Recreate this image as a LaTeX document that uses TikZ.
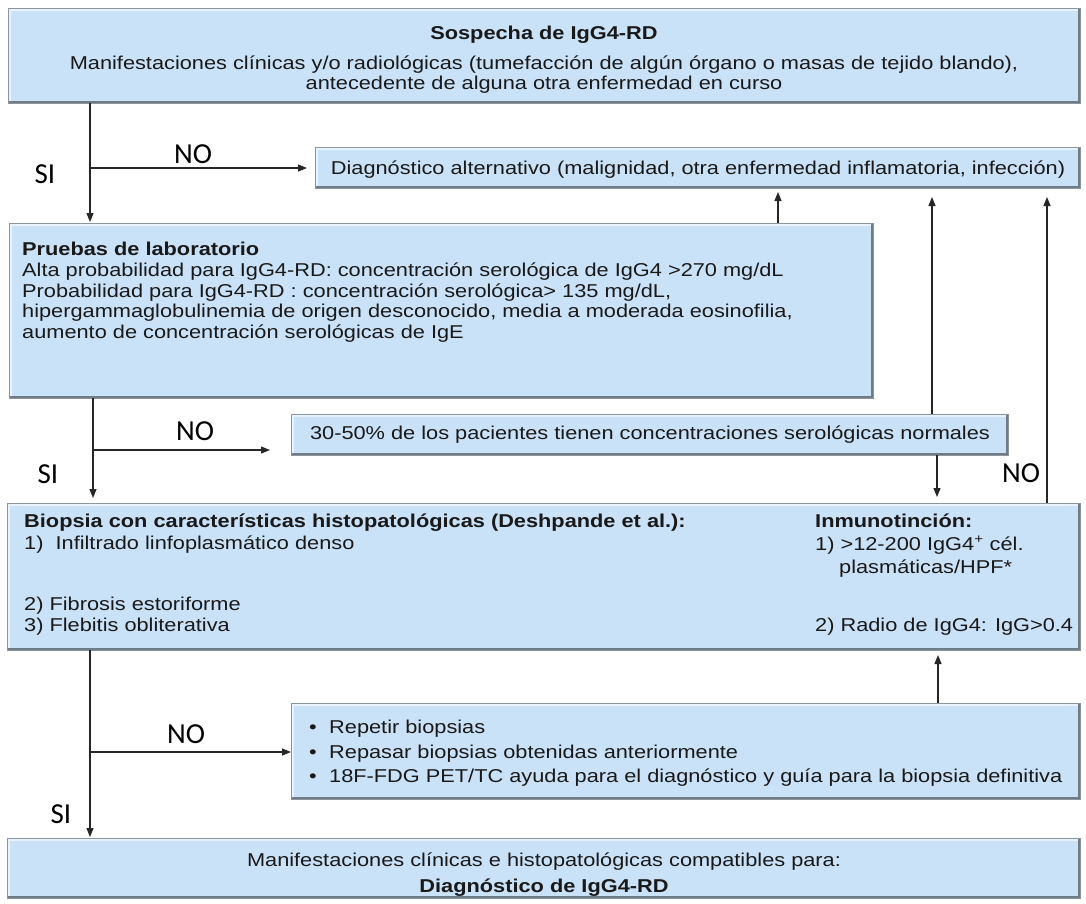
\documentclass[tikz,border=0pt]{standalone}
\usepackage{fontspec}
\setmainfont{Liberation Sans}[FakeStretch=1.17]
\newfontfamily\lblfont{Carlito}
\usetikzlibrary{arrows.meta,calc}
\definecolor{boxblue}{RGB}{201,226,248}
\definecolor{edgegray}{RGB}{140,150,160}
\definecolor{txtcol}{RGB}{25,25,25}
\begin{document}
\begin{tikzpicture}[x=1pt,y=-1pt,
  box/.style={draw=edgegray, line width=0.8pt, fill=boxblue, inner sep=0pt, outer sep=0pt, anchor=north west,
    path picture={
      \draw[white!55!boxblue, line width=3pt] ([xshift=1pt,yshift=-1pt]path picture bounding box.south west) -- ([xshift=1pt,yshift=-1pt]path picture bounding box.north west) -- ([xshift=-1pt,yshift=-1pt]path picture bounding box.north east);
      \draw[black!45!boxblue, line width=3pt] ([xshift=-1pt,yshift=-1pt]path picture bounding box.north east) -- ([xshift=-1pt,yshift=1pt]path picture bounding box.south east) -- ([xshift=1pt,yshift=1pt]path picture bounding box.south west);}},
  txt/.style={inner sep=0pt, text=txtcol, font=\fontsize{18.6}{19}\selectfont},
  txtb/.style={inner sep=0pt, text=txtcol, font=\fontsize{18.6}{19}\selectfont\bfseries},
  lbl/.style={inner sep=0pt, text=black, font=\lblfont\fontsize{29}{29}\selectfont, anchor=base},
  arr/.style={draw=black!85, line width=1.1pt, -{Triangle[length=9pt,width=7pt]}},
  ln/.style={draw=black!85, line width=1.1pt}
]
\useasboundingbox (0,0) rectangle (1086,903);
% boxes
\node[box, minimum width=1072pt, minimum height=95pt] (s1) at (8,8) {};
\node[box, minimum width=765pt, minimum height=41pt] (diag) at (315,147) {};
\node[box, minimum width=864pt, minimum height=175pt] (pru) at (9,223) {};
\node[box, minimum width=717pt, minimum height=41pt] (pct) at (291,414) {};
\node[box, minimum width=1073pt, minimum height=147pt] (bio) at (7,503) {};
\node[box, minimum width=789pt, minimum height=96pt] (rep) at (291,703) {};
\node[box, minimum width=1073pt, minimum height=60pt] (fin) at (7,838) {};
% texts
\node[txtb, anchor=base] (s1a) at (544,39) {Sospecha de IgG4-RD};
\node[txt, anchor=base] (s1b) at (544,69) {Manifestaciones clínicas y/o radiológicas (tumefacción de algún órgano o masas de tejido blando),};
\node[txt, anchor=base] (s1c) at (544,89) {antecedente de alguna otra enfermedad en curso};
\node[txt, anchor=base] (diagt) at (698,174) {Diagnóstico alternativo (malignidad, otra enfermedad inflamatoria, infección)};
\node[txtb, anchor=base west] (prua) at (22,255) {Pruebas de laboratorio};
\node[txt, anchor=base west] (prub) at (22,276) {Alta probabilidad para IgG4-RD: concentración serológica de IgG4 >270 mg/dL};
\node[txt, anchor=base west] (pruc) at (22,297) {Probabilidad para IgG4-RD : concentración serológica> 135 mg/dL,};
\node[txt, anchor=base west] (prud) at (22,317) {hipergammaglobulinemia de origen desconocido, media a moderada eosinofilia,};
\node[txt, anchor=base west] (prue) at (22,338) {aumento de concentración serológicas de IgE};
\node[txt, anchor=base] (pctt) at (650,439) {30-50\% de los pacientes tienen concentraciones serológicas normales};
\node[txtb, anchor=base west] (bioa) at (24,527) {Biopsia con características histopatológicas (Deshpande et al.):};
\node[txt, anchor=base west] (biob) at (24,549) {1)\ \ Infiltrado linfoplasmático denso};
\node[txt, anchor=base west] (bioc) at (24,610) {2) Fibrosis estoriforme};
\node[txt, anchor=base west] (biod) at (24,631) {3) Flebitis obliterativa};
\node[txtb, anchor=base west] (bioe) at (815,527) {Inmunotinción:};
\node[txt, anchor=base west] (biof) at (815,550) {1) >12-200 IgG4\textsuperscript{+} cél.};
\node[txt, anchor=base west] (biog) at (839,573) {plasmáticas/HPF*};
\node[txt, anchor=base west] (bioh) at (815,631) {2) Radio de IgG4: IgG>0.4};
\node[txt, anchor=base west] (repa) at (309,733) {\textbullet};
\node[txt, anchor=base west] (repb) at (329,733) {Repetir biopsias};
\node[txt, anchor=base west] (repc) at (309,758) {\textbullet};
\node[txt, anchor=base west] (repd) at (329,758) {Repasar biopsias obtenidas anteriormente};
\node[txt, anchor=base west] (repe) at (309,782) {\textbullet};
\node[txt, anchor=base west] (repf) at (329,782) {18F-FDG PET/TC ayuda para el diagnóstico y guía para la biopsia definitiva};
\node[txt, anchor=base] (fina) at (544,866) {Manifestaciones clínicas e histopatológicas compatibles para:};
\node[txtb, anchor=base] (finb) at (544,892) {Diagnóstico de IgG4-RD};
% labels
\node[lbl] (si1) at (45,183) {SI};
\node[lbl] (no1) at (193,163) {NO};
\node[lbl] (si2) at (48,483) {SI};
\node[lbl] (no2) at (195,440) {NO};
\node[lbl] (no3) at (1021,482) {NO};
\node[lbl] (no4) at (186,743) {NO};
\node[lbl] (si3) at (61,823) {SI};
% connector x positions
\coordinate (xa) at (90,0);
\coordinate (xb) at (93,0);
\coordinate (xc) at (778,0);
\coordinate (xd) at (932,0);
\coordinate (xe) at (937,0);
\coordinate (xf) at (1047,0);
\coordinate (xg) at (938,0);
\coordinate (ya) at (0,168);
\coordinate (yb) at (0,450);
\coordinate (yc) at (0,752);
% connectors
\draw[arr] (xa |- s1.south) -- ([yshift=1pt]xa |- pru.north);
\draw[arr] (xa |- ya) -- ([xshift=-8pt]diag.west |- ya);
\draw[arr] (xc |- pru.north) -- ([yshift=-4pt]xc |- diag.south);
\draw[arr] (xb |- pru.south) -- ([yshift=5pt]xb |- bio.north);
\draw[arr] (xb |- yb) -- ([xshift=-21pt]pct.west |- yb);
\draw[arr] (xe |- pct.south) -- ([yshift=6pt]xe |- bio.north);
\draw[arr] (xd |- pct.north) -- ([yshift=-9pt]xd |- diag.south);
\draw[arr] (xf |- bio.north) -- ([yshift=-9pt]xf |- diag.south);
\draw[arr] (xa |- bio.south) -- ([yshift=1pt]xa |- fin.north);
\draw[arr] (xa |- yc) -- (rep.west |- yc);
\draw[arr] (xg |- rep.north) -- ([yshift=-5pt]xg |- bio.south);
\end{tikzpicture}
\end{document}
